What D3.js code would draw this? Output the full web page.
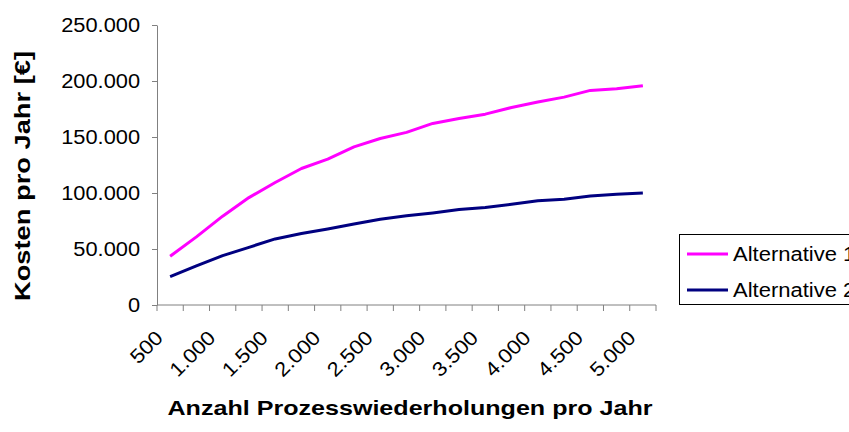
<!DOCTYPE html>
<html>
<head>
<meta charset="utf-8">
<script src="https://cdn.jsdelivr.net/npm/d3@7"></script>
<style>
  body { margin: 0; background: #fff; }
  text { font-family: "Liberation Sans", Arial, sans-serif; }
</style>
</head>
<body>
<div id="chart"></div>
<script>
// categories: process repetitions per year (every 250)
var wiederholungen = [500, 750, 1000, 1250, 1500, 1750, 2000, 2250, 2500, 2750,
  3000, 3250, 3500, 3750, 4000, 4250, 4500, 4750, 5000]
var alternative1 = [43500, 60800, 79300, 95900, 109400, 121900, 130200, 141200, 148700, 154100,
  162100, 166600, 170400, 176400, 181200, 185600, 191600, 193100, 195800]
var alternative2 = [25300, 34900, 44100, 51500, 59000, 63800, 67900, 72400, 76600, 79600,
  82200, 85200, 87000, 90000, 93000, 94500, 97400, 98900, 100100]
var yTicks = [0, 50000, 100000, 150000, 200000, 250000]
var seriesNames = ["Alternative 1", "Alternative 2"]
var seriesColors = ["#ff00ff", "#000080"]

var width = 849, height = 432
var margin = {top: 25, left: 157, right: 193, bottom: 127}
var innerW = width - margin.left - margin.right,
    innerH = height - margin.top - margin.bottom

var fmt = d3.formatLocale({decimal: ",", thousands: ".", grouping: [3], currency: ["", "€"]}).format(",d")

// the original text is a bit wider than Arial, stretch it
function stretch(sel, f) {
  sel.each(function() {
    var len = this.getComputedTextLength()
    d3.select(this).attr("textLength", len * f).attr("lengthAdjust", "spacingAndGlyphs")
  })
}

var svg = d3.select("#chart").append("svg")
  .attr("width", width)
  .attr("height", height)

var g = svg.append("g").attr("transform", `translate(${margin.left},${margin.top})`)

var x = d3.scaleBand().domain(wiederholungen).range([0, innerW])
var y = d3.scaleLinear().domain([0, 250000]).range([innerH, 0])

// y axis
var yAxis = g.append("g")
  .call(d3.axisLeft(y).tickValues(yTicks).tickFormat(fmt).tickSize(5).tickSizeOuter(0))
yAxis.select(".domain").attr("stroke", "#808080")
yAxis.selectAll(".tick line").attr("stroke", "#808080")
yAxis.selectAll("text").attr("font-size", 20).attr("fill", "#000")
  .attr("font-family", "Liberation Sans, Arial, sans-serif").attr("x", -17)
  .call(stretch, 1.09)

// x axis: ticks on category boundaries
var xAxisG = g.append("g").attr("transform", `translate(0,${innerH})`)
xAxisG.append("line").attr("x1", 0).attr("x2", innerW).attr("stroke", "#808080")
var bounds = wiederholungen.map(d => x(d)).concat([innerW])
xAxisG.selectAll(".tk").data(bounds).enter().append("line")
  .attr("x1", d => d).attr("x2", d => d).attr("y1", 0).attr("y2", 6)
  .attr("stroke", "#808080")

xAxisG.selectAll(".lbl").data(wiederholungen.filter((d, i) => i % 2 == 0)).enter()
  .append("text")
  .attr("transform", d => `translate(${x(d) + x.bandwidth() / 2 - 6},${34}) rotate(-45)`)
  .attr("text-anchor", "end")
  .attr("font-size", 20)
  .text(d => fmt(d))
  .call(stretch, 1.1)

// lines
var line = d3.line()
  .x((d, i) => x(wiederholungen[i]) + x.bandwidth() / 2)
  .y(d => y(d))

;[alternative1, alternative2].forEach(function(s, i) {
  g.append("path")
    .attr("d", line(s))
    .attr("fill", "none")
    .attr("stroke", seriesColors[i])
    .attr("stroke-width", 3)
    .attr("stroke-linejoin", "round")
})

// axis titles
svg.append("text")
  .attr("x", 410).attr("y", 415)
  .attr("text-anchor", "middle")
  .attr("font-size", 21).attr("font-weight", "bold")
  .attr("textLength", 485).attr("lengthAdjust", "spacingAndGlyphs")
  .text("Anzahl Prozesswiederholungen pro Jahr")

svg.append("text")
  .attr("transform", "translate(30,176) rotate(-90)")
  .attr("text-anchor", "middle")
  .attr("font-size", 22).attr("font-weight", "bold")
  .attr("textLength", 250).attr("lengthAdjust", "spacingAndGlyphs")
  .text("Kosten pro Jahr [€]")

// legend
var legend = svg.append("g")
legend.append("rect")
  .attr("x", 679.5).attr("y", 234.5).attr("width", 200).attr("height", 70)
  .attr("fill", "#fff").attr("stroke", "#000")
seriesNames.forEach(function(n, i) {
  var ly = 254 + i * 36
  legend.append("line").attr("x1", 687).attr("x2", 728).attr("y1", ly).attr("y2", ly)
    .attr("stroke", seriesColors[i]).attr("stroke-width", 3)
  legend.append("text").attr("x", 733).attr("y", ly + 7)
    .attr("font-size", 20).text(n)
    .call(stretch, 1.1)
})
</script>
</body>
</html>
